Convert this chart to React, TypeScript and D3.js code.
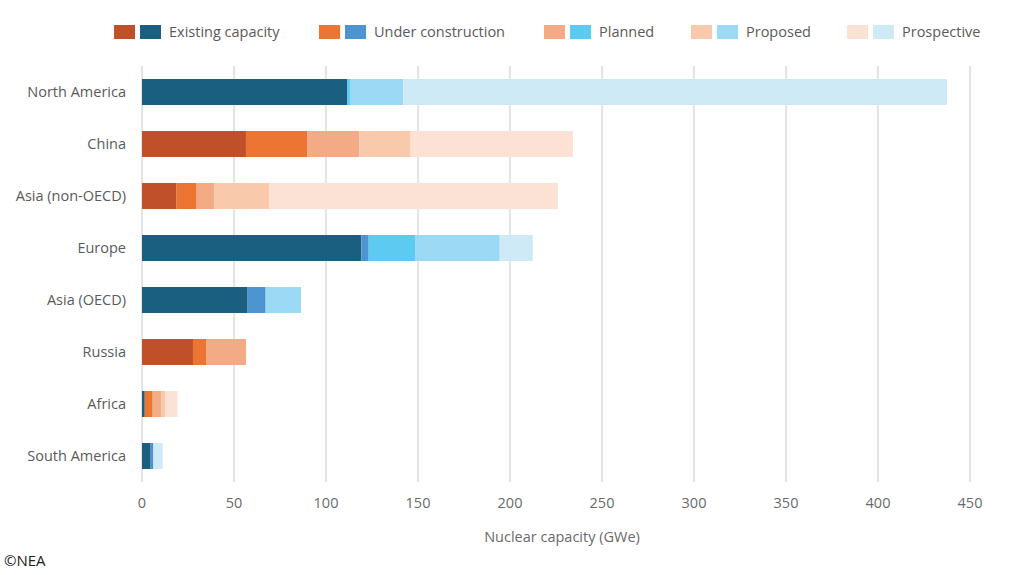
import React, { useRef, useEffect } from "react";
import * as d3 from "d3";

const regions = [
  "North America",
  "China",
  "Asia (non-OECD)",
  "Europe",
  "Asia (OECD)",
  "Russia",
  "Africa",
  "South America",
];

// GWe per stage
const existing = [111.5, 56.5, 18.8, 119.2, 57.4, 27.7, 1.5, 4.7];
const underConstruction = [0, 33.2, 10.9, 4.0, 9.8, 7.1, 4.3, 1.5];
const planned = [1.5, 28.4, 9.4, 25.2, 0, 21.7, 4.5, 0];
const proposed = [29, 27.9, 29.9, 46, 19.2, 0, 2.5, 0];
const prospective = [295.5, 88.2, 157, 18, 0, 0, 6.5, 5];

const stages = ["Existing capacity", "Under construction", "Planned", "Proposed", "Prospective"];
const xTicks = [0, 50, 100, 150, 200, 250, 300, 350, 400, 450];

// blue = OECD-style palette, orange = the other one
const regionScheme = ["blue", "orange", "orange", "blue", "blue", "orange", "orange", "blue"];
const existingScheme = ["blue", "orange", "orange", "blue", "blue", "orange", "blue", "blue"];

const orangeColors = ["#c0502a", "#ec7533", "#f2ab84", "#f8c9aa", "#fce1d5"];
const blueColors = ["#1a5e80", "#4d94d0", "#5ccaf1", "#9bd9f5", "#cdeaf6"];

const FONT = "'Open Sans', 'Noto Sans', sans-serif";

export default function App() {
  const svgRef = useRef<SVGSVGElement>(null);

  useEffect(() => {
    if (!svgRef.current) return;
    const svg = d3.select(svgRef.current);
    svg.selectAll("*").remove();

    const width = 1022;
    const height = 575;

    svg.append("rect").attr("width", width).attr("height", height).attr("fill", "#ffffff");

    const x = d3.scaleLinear().domain([0, 450]).range([142, 970]);
    const y = d3
      .scaleBand()
      .domain(regions)
      .range([66, 482])
      .paddingInner(0.5)
      .paddingOuter(0.25);

    // Grid
    svg
      .append("g")
      .selectAll("line")
      .data(xTicks)
      .enter()
      .append("line")
      .attr("x1", (d) => x(d))
      .attr("x2", (d) => x(d))
      .attr("y1", 66)
      .attr("y2", 482)
      .attr("stroke", "#dedede")
      .attr("stroke-width", 1.6);

    // Bars
    const series = [existing, underConstruction, planned, proposed, prospective];
    regions.forEach((region, ri) => {
      let acc = 0;
      series.forEach((vals, si) => {
        const v = vals[ri];
        if (!v) return;
        const scheme = si === 0 ? existingScheme[ri] : regionScheme[ri];
        const color = (scheme === "blue" ? blueColors : orangeColors)[si];
        svg
          .append("rect")
          .attr("x", x(acc))
          .attr("y", y(region) || 0)
          .attr("width", x(acc + v) - x(acc))
          .attr("height", y.bandwidth())
          .attr("fill", color);
        acc += v;
      });
    });

    // Category labels
    svg
      .append("g")
      .selectAll("text")
      .data(regions)
      .enter()
      .append("text")
      .attr("x", 126)
      .attr("y", (d) => (y(d) || 0) + y.bandwidth() / 2)
      .attr("dy", "0.35em")
      .attr("text-anchor", "end")
      .attr("fill", "#5a5a5a")
      .attr("font-size", "14.5px")
      .attr("font-family", FONT)
      .text((d) => d);

    // X axis labels
    svg
      .append("g")
      .selectAll("text")
      .data(xTicks)
      .enter()
      .append("text")
      .attr("x", (d) => x(d))
      .attr("y", 503)
      .attr("dy", "0.35em")
      .attr("text-anchor", "middle")
      .attr("fill", "#6a6a6a")
      .attr("font-size", "14.5px")
      .attr("font-family", FONT)
      .text((d) => String(d));

    svg
      .append("text")
      .attr("x", 562)
      .attr("y", 537)
      .attr("dy", "0.35em")
      .attr("text-anchor", "middle")
      .attr("fill", "#6a6a6a")
      .attr("font-size", "14.5px")
      .attr("font-family", FONT)
      .text("Nuclear capacity (GWe)");

    svg
      .append("text")
      .attr("x", 4)
      .attr("y", 561)
      .attr("dy", "0.35em")
      .attr("fill", "#222")
      .attr("font-size", "15px")
      .attr("font-family", FONT)
      .text("\u00a9NEA");

    // Legend
    const legendX = [114, 319, 544, 691, 847];
    const legend = svg.append("g");
    stages.forEach((s, i) => {
      const lx = legendX[i];
      legend
        .append("rect")
        .attr("x", lx)
        .attr("y", 25)
        .attr("width", 21)
        .attr("height", 14)
        .attr("fill", orangeColors[i]);
      legend
        .append("rect")
        .attr("x", lx + 26)
        .attr("y", 25)
        .attr("width", 21)
        .attr("height", 14)
        .attr("fill", blueColors[i]);
      legend
        .append("text")
        .attr("x", lx + 55)
        .attr("y", 32)
        .attr("dy", "0.35em")
        .attr("fill", "#5a5a5a")
        .attr("font-size", "14.5px")
        .attr("font-family", FONT)
        .text(s);
    });
  }, []);

  return (
    <svg
      ref={svgRef}
      width={1022}
      height={575}
      style={{ position: "fixed", left: 0, top: 0, display: "block" }}
    />
  );
}
